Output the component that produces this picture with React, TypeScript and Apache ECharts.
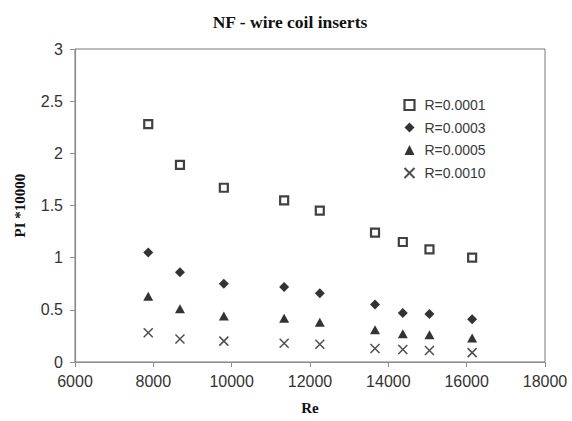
import React, { useEffect, useRef } from "react";
import * as echarts from "echarts";

// Reynolds numbers of the measured points
const reValues = [7870, 8680, 9800, 11340, 12250, 13660, 14370, 15050, 16140];

// Performance index (x 10000) for each relative roughness
const piR0001 = [2.28, 1.89, 1.67, 1.55, 1.45, 1.24, 1.15, 1.08, 1.0];
const piR0003 = [1.05, 0.86, 0.75, 0.72, 0.66, 0.55, 0.47, 0.46, 0.41];
const piR0005 = [0.63, 0.51, 0.44, 0.42, 0.38, 0.31, 0.27, 0.26, 0.23];
const piR0010 = [0.28, 0.22, 0.2, 0.18, 0.17, 0.13, 0.12, 0.11, 0.09];

const seriesNames = ["R=0.0001", "R=0.0003", "R=0.0005", "R=0.0010"];

const crossPath = "path://M0,0 L10,10 M10,0 L0,10";

const pairs = (ys: number[]) => reValues.map((x, i) => [x, ys[i]]);

export default function App() {
  const ref = useRef<HTMLDivElement>(null);

  useEffect(() => {
    if (!ref.current) return;
    const chart = echarts.init(ref.current, undefined, { renderer: "svg" });
    const sansFont = "'Liberation Sans', Arial, sans-serif";
    const serifFont = "'Liberation Serif', 'Times New Roman', serif";

    chart.setOption({
      animation: false,
      backgroundColor: "#ffffff",
      title: {
        text: "NF - wire coil inserts",
        left: 285,
        textAlign: "center",
        top: 8,
        textStyle: {
          fontFamily: serifFont,
          fontWeight: "bold",
          fontSize: 17.5,
          color: "#111",
        },
      },
      grid: {
        left: 75,
        right: 27,
        top: 49,
        bottom: 59,
        show: true,
        borderColor: "#7a7a7a",
        borderWidth: 1,
      },
      legend: {
        orient: "vertical",
        left: 397,
        top: 93,
        itemGap: 8.5,
        itemWidth: 10,
        itemHeight: 10,
        textStyle: {
          fontFamily: sansFont,
          fontSize: 14,
          color: "#3a3a3a",
          padding: [0, 0, 0, 5],
        },
        data: [
          {
            name: seriesNames[0],
            itemStyle: { color: "#ffffff", borderColor: "#111", borderWidth: 2.2 },
          },
          seriesNames[1],
          seriesNames[2],
          seriesNames[3],
        ],
      },
      xAxis: {
        type: "value",
        min: 6000,
        max: 18000,
        interval: 2000,
        name: "Re",
        nameLocation: "middle",
        nameGap: 38,
        nameTextStyle: {
          fontFamily: serifFont,
          fontWeight: "bold",
          fontSize: 15,
          color: "#111",
        },
        axisLine: { lineStyle: { color: "#8c8c8c", width: 1.2 } },
        axisTick: { show: true, inside: false, length: 5, lineStyle: { color: "#8c8c8c" } },
        axisLabel: {
          fontFamily: sansFont,
          fontSize: 16,
          color: "#333",
          margin: 11,
          formatter: (v: number) => String(v),
        },
        splitLine: { show: false },
      },
      yAxis: {
        type: "value",
        min: 0,
        max: 3,
        interval: 0.5,
        name: "PI *10000",
        nameLocation: "middle",
        nameGap: 48,
        nameTextStyle: {
          fontFamily: serifFont,
          fontWeight: "bold",
          fontSize: 15,
          color: "#111",
        },
        axisLine: { show: true, lineStyle: { color: "#8c8c8c", width: 1.2 } },
        axisTick: { show: true, inside: false, length: 5, lineStyle: { color: "#8c8c8c" } },
        axisLabel: { fontFamily: sansFont, fontSize: 16, color: "#333", margin: 12 },
        splitLine: { show: false },
      },
      series: [
        {
          name: seriesNames[0],
          type: "scatter",
          symbol: "rect",
          symbolSize: 8,
          itemStyle: { color: "#ffffff", borderColor: "#111", borderWidth: 2.2 },
          data: pairs(piR0001),
        },
        {
          name: seriesNames[1],
          type: "scatter",
          symbol: "diamond",
          symbolSize: [10, 10],
          itemStyle: { color: "#000" },
          data: pairs(piR0003),
        },
        {
          name: seriesNames[2],
          type: "scatter",
          symbol: "triangle",
          symbolSize: [10, 9],
          itemStyle: { color: "#000" },
          data: pairs(piR0005),
        },
        {
          name: seriesNames[3],
          type: "scatter",
          symbol: crossPath,
          symbolSize: 9,
          itemStyle: { color: "none", borderColor: "#222", borderWidth: 1.5 },
          data: pairs(piR0010),
        },
      ],
    });

    return () => chart.dispose();
  }, []);

  return (
    <div
      ref={ref}
      style={{ position: "absolute", left: 0, top: 0, width: 572, height: 421 }}
    />
  );
}
